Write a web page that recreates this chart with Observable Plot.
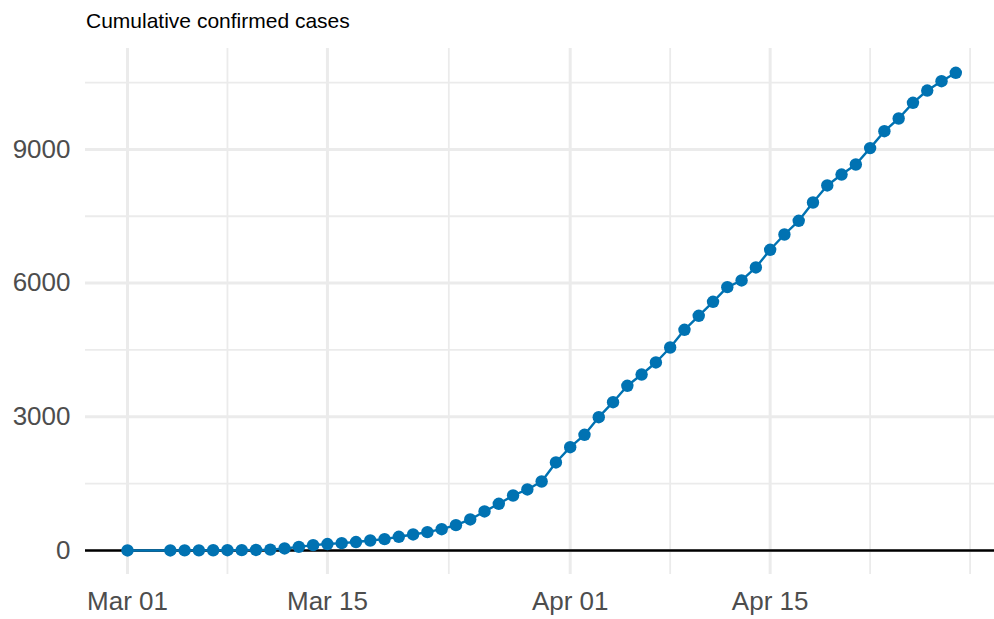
<!DOCTYPE html>
<html>
<head>
<meta charset="utf-8">
<script src="https://cdn.jsdelivr.net/npm/d3@7"></script>
<script src="https://cdn.jsdelivr.net/npm/@observablehq/plot@0.6"></script>
<style>
  html, body { margin: 0; padding: 0; background: #ffffff; }
  #wrap { position: relative; width: 994px; height: 619px; font-family: "Liberation Sans", Arial, sans-serif; }
  #title { position: absolute; left: 86px; top: 9.5px; font-size: 21px; line-height: 21px; color: #000000; white-space: nowrap; }
  #chart { position: absolute; left: 0; top: 0; }
</style>
</head>
<body>
<div id="wrap">
  <div id="chart"></div>
  <div id="title">Cumulative confirmed cases</div>
</div>
<script>
// ---- data ----
const dates = [
  "2020-03-01",
  "2020-03-04", "2020-03-05", "2020-03-06", "2020-03-07", "2020-03-08", "2020-03-09", "2020-03-10",
  "2020-03-11", "2020-03-12", "2020-03-13", "2020-03-14", "2020-03-15", "2020-03-16", "2020-03-17",
  "2020-03-18", "2020-03-19", "2020-03-20", "2020-03-21", "2020-03-22", "2020-03-23", "2020-03-24",
  "2020-03-25", "2020-03-26", "2020-03-27", "2020-03-28", "2020-03-29", "2020-03-30", "2020-03-31",
  "2020-04-01", "2020-04-02", "2020-04-03", "2020-04-04", "2020-04-05", "2020-04-06", "2020-04-07",
  "2020-04-08", "2020-04-09", "2020-04-10", "2020-04-11", "2020-04-12", "2020-04-13", "2020-04-14",
  "2020-04-15", "2020-04-16", "2020-04-17", "2020-04-18", "2020-04-19", "2020-04-20", "2020-04-21",
  "2020-04-22", "2020-04-23", "2020-04-24", "2020-04-25", "2020-04-26", "2020-04-27", "2020-04-28"
];
const cases = [
  1,
  1, 2, 3, 5, 6, 8, 12,
  20, 45, 80, 120, 145, 165, 190,
  224, 254, 307, 359, 411, 478, 568,
  696, 875, 1048, 1234, 1369, 1548, 1975,
  2318, 2596, 2991, 3328, 3696, 3949, 4219,
  4555, 4953, 5267, 5581, 5909, 6059, 6351,
  6748, 7091, 7398, 7809, 8191, 8437, 8662,
  9030, 9409, 9694, 10046, 10322, 10531, 10720
];
const xTickDates = ["2020-03-01", "2020-03-15", "2020-04-01", "2020-04-15"];
const xMinorDates = ["2020-03-08", "2020-03-23T12:00", "2020-04-08", "2020-04-22", "2020-04-29"];
const yTicks = [0, 3000, 6000, 9000];
const yMinor = [1500, 4500, 7500, 10500];
const title = "Cumulative confirmed cases";

// ---- build ----
const parse = s => new Date(s + (s.length === 10 ? "T00:00Z" : "Z"));
const data = dates.map((d, i) => ({date: parse(d), value: cases[i]}));
const xMajor = xTickDates.map(parse);
const xMinor = xMinorDates.map(parse);

const DAY = 864e5;
const t0 = parse(dates[0]).getTime();
const xDomain = [new Date(t0 - 2.94 * DAY), new Date(t0 + 60.71 * DAY)];
const yDomain = [-539, 11265];

const blue = "#0072B2";
const grid = "#EBEBEB";
const tickColor = "#4D4D4D";

document.getElementById("title").textContent = title;

const chart = Plot.plot({
  width: 994,
  height: 619,
  marginLeft: 85,
  marginRight: 0,
  marginTop: 48,
  marginBottom: 45,
  style: {fontFamily: '"Liberation Sans", Arial, sans-serif', background: "#ffffff", overflow: "visible"},
  x: {type: "utc", domain: xDomain},
  y: {domain: yDomain},
  marks: [
    Plot.ruleY(yMinor, {stroke: grid, strokeWidth: 1.8}),
    Plot.ruleX(xMinor, {stroke: grid, strokeWidth: 1.8}),
    Plot.ruleY(yTicks, {stroke: grid, strokeWidth: 3}),
    Plot.ruleX(xMajor, {stroke: grid, strokeWidth: 3}),
    Plot.axisY(yTicks, {ticks: yTicks, tickSize: 0, tickPadding: 15, fontSize: 26, color: tickColor, label: null, tickFormat: d => String(d)}),
    Plot.axisX(xMajor, {ticks: xMajor, tickSize: 0, tickPadding: 17, fontSize: 26, color: tickColor, label: null, tickFormat: d3.utcFormat("%b %d")}),
    Plot.ruleY([0], {stroke: "#000000", strokeWidth: 2.6}),
    Plot.line(data, {x: "date", y: "value", stroke: blue, strokeWidth: 2.4}),
    Plot.dot(data, {x: "date", y: "value", fill: blue, r: 6.2, stroke: "none"})
  ]
});
document.getElementById("chart").appendChild(chart);
</script>
</body>
</html>
